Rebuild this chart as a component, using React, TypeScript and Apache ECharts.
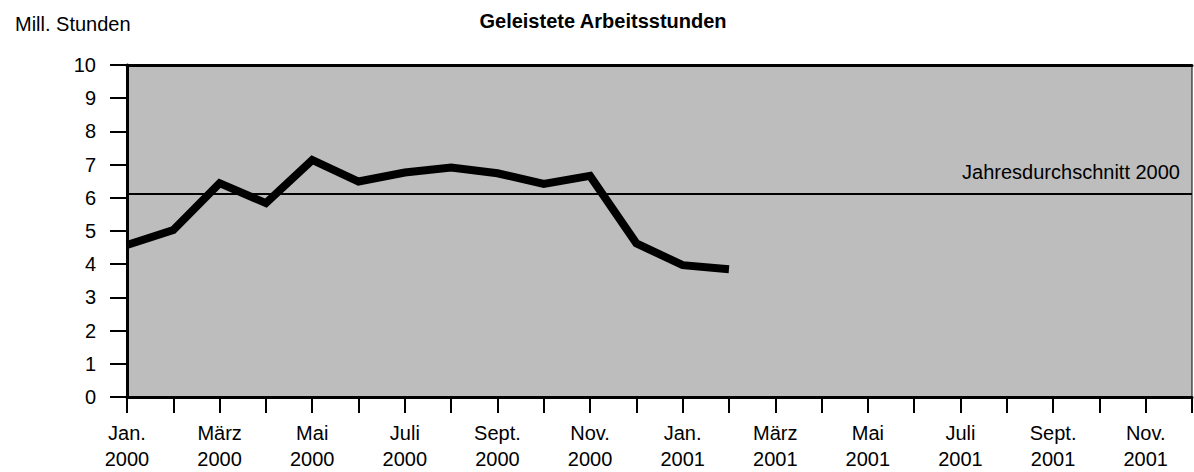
import React, { useEffect, useRef } from "react";
import * as echarts from "echarts";

const monthNames = ["Jan.", "Feb.", "März", "April", "Mai", "Juni", "Juli", "Aug.", "Sept.", "Okt.", "Nov.", "Dez."];
const years = ["2000", "2001"];
const categories: string[] = years.flatMap((y) => monthNames.map((m) => `${m}\n${y}`));
const hours: number[] = [4.58, 5.03, 6.44, 5.84, 7.14, 6.49, 6.76, 6.91, 6.74, 6.42, 6.66, 4.63, 3.97, 3.85];
const average2000 = 6.12;
const averageLabel = "Jahresdurchschnitt 2000";
const titleText = "Geleistete Arbeitsstunden";
const unitText = "Mill. Stunden";

const FONT = "'Liberation Sans', Arial, sans-serif";

export default function App() {
  const ref = useRef<HTMLDivElement>(null);
  useEffect(() => {
    if (!ref.current) return;
    const chart = echarts.init(ref.current, undefined, { renderer: "svg" });
    chart.setOption({
      animation: false,
      backgroundColor: "#fff",
      textStyle: { fontFamily: FONT, color: "#000" },
      title: [
        {
          text: titleText,
          left: 598,
          textAlign: "center",
          top: 6,
          textStyle: { fontFamily: FONT, fontSize: 20, fontWeight: "bold", color: "#000" },
        },
        {
          text: unitText,
          left: 10,
          top: 9,
          textStyle: { fontFamily: FONT, fontSize: 20, fontWeight: "normal", color: "#000" },
        },
      ],
      grid: {
        left: 127,
        right: 2,
        top: 65,
        bottom: 75,
        show: true,
        backgroundColor: "#bdbdbd",
        borderColor: "#000",
        borderWidth: 1,
      },
      xAxis: [
        {
          type: "category",
          data: categories,
          boundaryGap: false,
          axisLine: { show: true, lineStyle: { color: "#000", width: 3 } },
          axisTick: { show: true, interval: 0, length: 16, lineStyle: { color: "#000", width: 2 } },
          axisLabel: {
            interval: 1,
            margin: 23,
            fontFamily: FONT,
            fontSize: 20,
            lineHeight: 26,
            color: "#000",
          },
          splitLine: { show: false },
        },
        {
          type: "category",
          data: categories,
          boundaryGap: false,
          position: "top",
          axisLine: { show: true, lineStyle: { color: "#000", width: 3 } },
          axisTick: { show: false },
          axisLabel: { show: false },
          splitLine: { show: false },
        },
      ],
      yAxis: {
        type: "value",
        min: 0,
        max: 10,
        interval: 1,
        axisLine: { show: true, lineStyle: { color: "#000", width: 3 } },
        axisTick: { show: true, length: 17, lineStyle: { color: "#000", width: 2 } },
        axisLabel: { margin: 31, fontFamily: FONT, fontSize: 20, color: "#000" },
        splitLine: { show: false },
      },
      series: [
        {
          type: "line",
          data: hours,
          showSymbol: false,
          symbol: "none",
          lineStyle: { color: "#000", width: 8, join: "miter" },
          z: 3,
          markLine: {
            silent: true,
            symbol: "none",
            lineStyle: { color: "#000", width: 2, type: "solid" },
            label: {
              show: true,
              position: "insideEndTop",
              formatter: averageLabel,
              fontFamily: FONT,
              fontSize: 20,
              color: "#000",
              distance: [12, 12],
            },
            data: [{ yAxis: average2000 }],
          },
        },
      ],
    });
    return () => chart.dispose();
  }, []);
  return (
    <div
      ref={ref}
      style={{ position: "fixed", left: 0, top: 0, width: 1194, height: 472 }}
    />
  );
}
